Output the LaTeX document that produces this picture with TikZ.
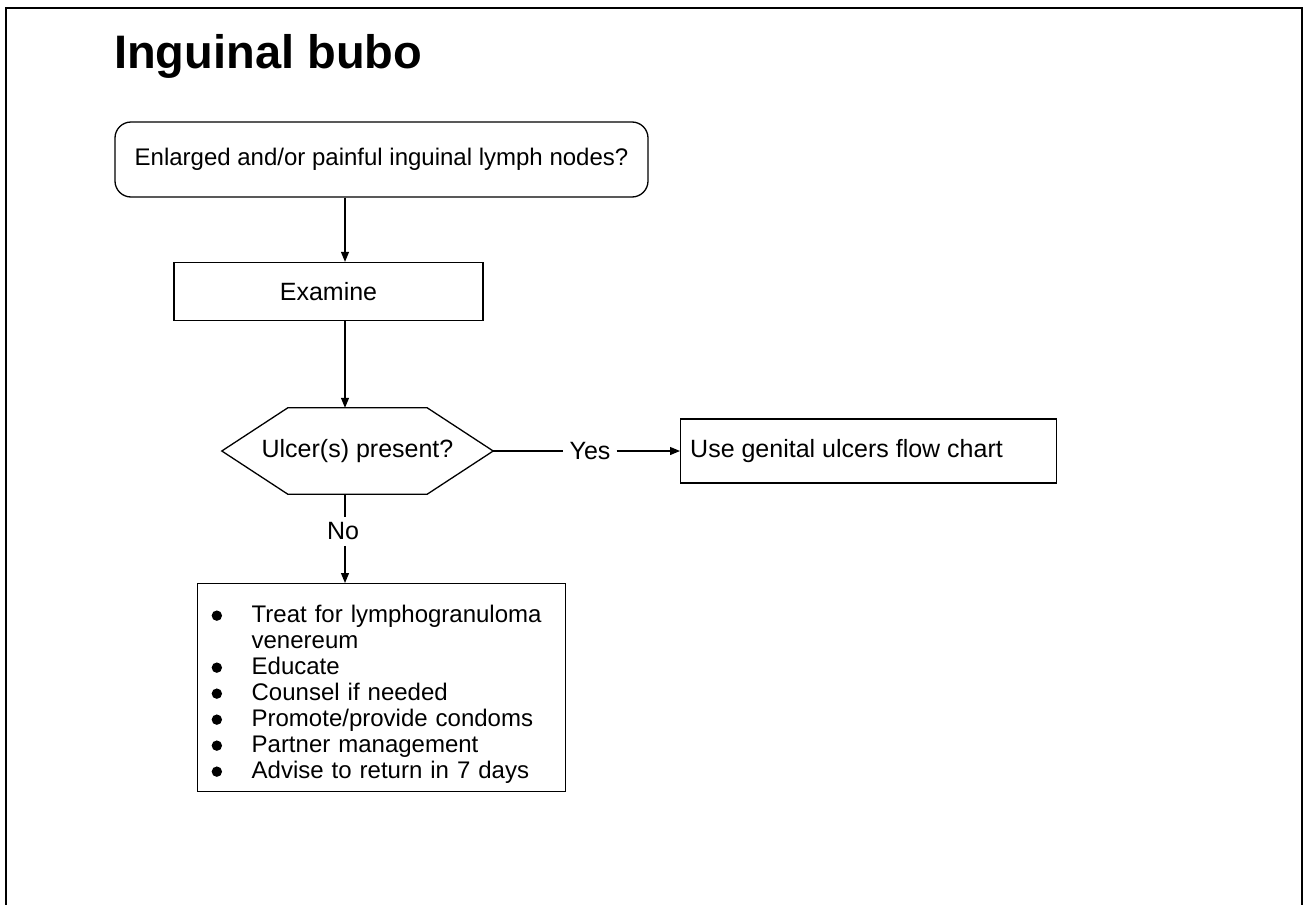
\documentclass[tikz,border=0pt]{standalone}
\usepackage{fontspec}
\setmainfont{Liberation Sans}
\usetikzlibrary{arrows.meta,calc}
% large filled bullet for the action list
\newcommand{\bigbullet}{\tikz[baseline=-7pt]\fill (0,0) circle[radius=5.2pt];}
\begin{document}
\begin{tikzpicture}[x=1pt,y=-1pt,
  every node/.style={font=\fontsize{24}{26}\selectfont, inner sep=0pt},
  big/.style={font=\fontsize{25}{26}\selectfont},
  frame/.style={line width=1.6pt},
  box/.style={draw, line width=1.3pt, rectangle, inner sep=0pt},
  link/.style={line width=1.2pt},
  arr/.style={link, -{Triangle[length=10pt,width=8pt]}},
]
\useasboundingbox (0,0) rectangle (1310,905);
% page frame, open at the bottom
\draw[frame] (6,905) -- (6,8) -- (1302,8) -- (1302,905);

\node[anchor=base west, font=\fontsize{47}{52}\selectfont\bfseries] (title) at (114,68) {Inguinal bubo};

% vertical axis of the main flow
\coordinate (axis) at (345,0);

\node[box, rounded corners=16pt, minimum width=533, minimum height=75] (start) at (381.5,159.5)
  {Enlarged and/or painful inguinal lymph nodes?};

\node[box, big, minimum width=309, minimum height=58] (exam) at (328.5,291.5) {Examine};

% decision: a flat hexagon drawn round an invisible text node
\node[big, minimum width=271, minimum height=86] (ulcer) at (357.5,451) {Ulcer(s) present?};
\draw[box] (ulcer.west) -- ([xshift=66pt]ulcer.north west) -- ([xshift=-66pt]ulcer.north east)
  -- (ulcer.east) -- ([xshift=-66pt]ulcer.south east) -- ([xshift=66pt]ulcer.south west) -- cycle;

\node[box, minimum width=376, minimum height=64, anchor=west] (refer) at (680,451) {};
\node[big, anchor=west] (refertext) at ([xshift=10pt]refer.west) {Use genital ulcers flow chart};

\node[big] (yes) at (590,451) {Yes};
\node[big] (no) at (343,531) {No};

\node[box, anchor=north west, text width=340pt, align=left, inner xsep=14pt, inner ysep=5pt] (care) at (197,583)
  {\begin{tabular}{@{}p{40pt}@{}l@{}}
   \bigbullet & \rule{0pt}{34pt}Treat for lymphogranuloma\\
              & venereum\\
   \bigbullet & Educate\\
   \bigbullet & Counsel if needed\\
   \bigbullet & Promote/provide condoms\\
   \bigbullet & Partner management\\
   \bigbullet & Advise to return in 7 days
   \end{tabular}};

% connectors
\draw[arr] (start.south -| axis) -- (exam.north -| axis);
\draw[arr] (exam.south -| axis) -- (ulcer.north -| axis);
\draw[link] (ulcer.east) -- ([xshift=-6pt]yes.west);
\draw[arr] ([xshift=6pt]yes.east) -- (refer.west);
\draw[link] (ulcer.south -| axis) -- ([yshift=5pt]no.north -| axis);
\draw[arr] ([yshift=-6pt]no.south -| axis) -- (care.north -| axis);
\end{tikzpicture}
\end{document}
